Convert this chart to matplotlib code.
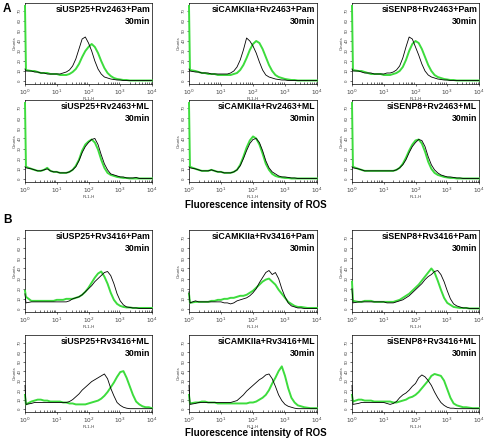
"""
ROS flow cytometry histograms (FL1-H), siRNA knockdown panels A and B
"""

import matplotlib.pyplot as plt
import numpy as np
from matplotlib.ticker import LogLocator, NullFormatter

plt.rcParams['font.family'] = ['Liberation Sans', 'DejaVu Sans']

# log10 FL1-H bin positions: the first-channel pile-up, the value just after it,
# then 0.1 decade steps up to 10^4
log_fl1 = np.concatenate([[0.0, 0.03], np.round(np.arange(0.2, 4.01, 0.1), 1)])

titles = [
    'siUSP25+Rv2463+Pam', 'siCAMKIIa+Rv2463+Pam', 'siSENP8+Rv2463+Pam',
    'siUSP25+Rv2463+ML', 'siCAMKIIa+Rv2463+ML', 'siSENP8+Rv2463+ML',
    'siUSP25+Rv3416+Pam', 'siCAMKIIa+Rv3416+Pam', 'siSENP8+Rv3416+Pam',
    'siUSP25+Rv3416+ML', 'siCAMKIIa+Rv3416+ML', 'siSENP8+Rv3416+ML',
]
time_label = '30min'

# counts, black = control, green = treated
black_counts = [
    [12, 10, 10, 9, 9, 8, 8, 7, 7, 7, 7, 7, 8, 9, 11, 15, 22, 32, 42, 44,
     38, 30, 20, 12, 7, 4, 3, 2, 1.5, 1, 1, .5, .5, .5, .5, .5, .5, .5, .5, .5, .5],
    [12, 10, 9, 9, 8, 8, 8, 7, 7, 7, 7, 7, 7, 8, 10, 14, 21, 31, 43, 40,
     35, 28, 19, 11, 6, 4, 3, 2, 1.5, 1, 1, .5, .5, .5, .5, .5, .5, .5, .5, .5, .5],
    [12, 10, 10, 9, 8, 8, 8, 7, 7, 7, 7, 8, 8, 9, 11, 15, 23, 34, 44, 42,
     34, 26, 17, 10, 6, 4, 3, 2, 1.5, 1, 1, .5, .5, .5, .5, .5, .5, .5, .5, .5, .5],
    [12, 11, 10, 9, 8, 8, 9, 10, 8, 7, 7, 6, 6, 6, 7, 9, 12, 18, 26, 32,
     36, 39, 40, 34, 24, 15, 9, 5, 4, 3, 2, 2, 1, 1, 1, 1.5, .5, .5, .5, .5, .5],
    [12, 11, 10, 9, 8, 8, 8, 9, 8, 7, 7, 6, 6, 6, 7, 9, 13, 20, 28, 35,
     39, 40, 36, 28, 18, 11, 7, 5, 3, 2, 2, 1.5, 1, 1, .5, .5, .5, .5, .5, .5, .5],
    [12, 11, 10, 9, 8, 8, 8, 8, 8, 8, 8, 8, 8, 8, 9, 11, 14, 19, 26, 32,
     36, 39, 38, 32, 22, 14, 9, 6, 4, 3, 2, 2, 1.5, 1, 1, .5, .5, .5, .5, .5, .5],
    [15, 6, 7, 7, 7, 7, 7, 7, 7, 7, 7, 7, 7, 7, 8, 10, 11, 12, 14, 17,
     20, 23, 27, 30, 33, 36, 37, 33, 25, 15, 8, 4, 2, 1.5, 1, 1, .5, .5, .5, .5, .5],
    [17, 6, 8, 7, 7, 7, 7, 7, 7, 7, 7, 6, 6, 5, 6, 8, 9, 10, 11, 13,
     16, 20, 26, 31, 36, 38, 34, 36, 30, 20, 12, 6, 3, 2, 1, 1, .5, .5, .5, .5, .5],
    [20, 6, 7, 7, 7, 7, 7, 7, 7, 7, 7, 6, 6, 6, 7, 8, 9, 11, 13, 16,
     19, 22, 25, 29, 32, 34, 37, 38, 34, 27, 18, 10, 5, 3, 2, 1, 1, .5, .5, .5, .5],
    [25, 5, 6, 7, 7, 7, 7, 7, 7, 7, 7, 7, 7, 7, 8, 10, 13, 16, 20, 23,
     26, 29, 31, 33, 35, 37, 32, 22, 14, 7, 4, 2, 1, .5, .5, .5, .5, .5, .5, .5, .5],
    [25, 5, 6, 7, 7, 7, 7, 7, 7, 7, 7, 7, 7, 7, 8, 9, 12, 15, 19, 22,
     25, 28, 31, 33, 36, 37, 32, 24, 15, 9, 5, 3, 2, 1, .5, .5, .5, .5, .5, .5, .5],
    [25, 5, 6, 7, 7, 7, 7, 7, 7, 7, 7, 6, 5, 6, 8, 12, 15, 17, 20, 24,
     27, 33, 36, 34, 30, 25, 18, 12, 7, 4, 2, 1, 1, .5, .5, .5, .5, .5, .5, .5, .5],
]

green_counts = [
    [75, 11, 10, 10, 9, 8, 8, 8, 7, 7, 7, 6, 6, 6, 7, 9, 12, 17, 24, 30,
     34, 37, 34, 28, 20, 13, 8, 5, 3, 2, 1.5, 1, 1, .5, .5, .5, .5, .5, .5, .5, .5],
    [75, 11, 10, 9, 8, 8, 7, 7, 7, 6, 6, 6, 6, 6, 7, 8, 11, 16, 23, 31,
     37, 40, 38, 32, 24, 16, 10, 6, 4, 3, 2, 1.5, 1, 1, .5, .5, .5, .5, .5, .5, .5],
    [75, 11, 10, 10, 9, 8, 7, 7, 7, 7, 6, 6, 6, 7, 8, 10, 14, 21, 30, 37,
     40, 38, 32, 24, 16, 10, 6, 4, 3, 2, 1.5, 1, 1, .5, .5, .5, .5, .5, .5, .5, .5],
    [75, 12, 10, 9, 8, 8, 9, 11, 8, 7, 7, 6, 6, 6, 7, 9, 13, 19, 28, 34,
     37, 39, 36, 29, 19, 11, 6, 4, 3, 2, 1.5, 1, 1, .5, .5, .5, .5, .5, .5, .5, .5],
    [75, 12, 10, 9, 8, 8, 8, 9, 8, 7, 7, 6, 6, 6, 7, 9, 14, 22, 31, 38,
     42, 40, 34, 25, 15, 9, 5, 3, 2, 1.5, 1, 1, .5, .5, .5, .5, .5, .5, .5, .5, .5],
    [75, 12, 10, 9, 8, 8, 8, 8, 8, 8, 8, 8, 8, 8, 9, 11, 15, 21, 28, 34,
     38, 39, 35, 27, 17, 10, 6, 4, 3, 2, 1.5, 1, 1, .5, .5, .5, .5, .5, .5, .5, .5],
    [18, 12, 8, 8, 8, 8, 8, 8, 8, 8, 9, 9, 9, 10, 10, 10, 11, 12, 14, 17,
     21, 26, 31, 35, 37, 32, 25, 16, 9, 5, 3, 2, 1.5, 1.5, 1, 1, 1, 1, 1, 1, 1],
    [15, 6, 7, 7, 7, 7, 7, 8, 8, 9, 9, 10, 10, 11, 11, 12, 13, 13, 14, 16,
     18, 21, 24, 27, 29, 30, 27, 24, 19, 15, 11, 7, 5, 3, 2, 2, 1.5, 1, 1, 1, 1],
    [27, 8, 7, 7, 8, 8, 8, 7, 7, 7, 7, 7, 7, 7, 8, 9, 11, 13, 15, 18,
     21, 24, 28, 32, 36, 40, 36, 28, 19, 11, 6, 4, 2, 1.5, 1, 1, 1, .5, .5, .5, .5],
    [15, 5, 8, 9, 10, 10, 9, 9, 8, 8, 8, 8, 7, 7, 6, 6, 5, 5, 5, 5,
     6, 7, 8, 9, 11, 14, 18, 23, 28, 34, 39, 40, 33, 24, 15, 8, 5, 3, 2, 2, 1],
    [15, 6, 7, 7, 8, 8, 7, 7, 7, 6, 6, 6, 6, 6, 6, 6, 6, 6, 6, 7,
     7, 8, 10, 12, 15, 20, 27, 33, 40, 45, 35, 22, 12, 7, 4, 3, 2, 1.5, 1, 1, 1],
    [15, 8, 10, 10, 9, 9, 9, 8, 8, 8, 8, 8, 8, 7, 7, 8, 9, 10, 12, 13,
     15, 18, 22, 26, 30, 35, 37, 36, 35, 30, 21, 12, 6, 4, 3, 2, 2, 1.5, 1, 1, 1],
]

GREEN = '#3ddc3d'
W, H = 492, 440

# panel frames in pixels: columns (left, right), rows (top, bottom)
col_px = [(25, 152), (189, 317), (352, 479)]
row_px = [(3, 84), (100, 182), (230, 312), (335, 412)]

fig = plt.figure(figsize=(W / 100, H / 100), dpi=100)

fl1 = 10 ** log_fl1
for i, title in enumerate(titles):
    r, c = divmod(i, 3)
    (x0, x1), (y0, y1) = col_px[c], row_px[r]
    ax = fig.add_axes([x0 / W, 1 - y1 / H, (x1 - x0) / W, (y1 - y0) / H])

    # unclipped so the first-channel pile-up shows over the left spine
    ax.plot(fl1, black_counts[i], color='black', linewidth=0.6, zorder=4,
            clip_on=False)
    ax.plot(fl1, green_counts[i], color=GREEN, linewidth=1.4, zorder=3,
            clip_on=False)

    ax.set_xscale('log')
    ax.set_xlim(1, 1e4)
    ax.set_ylim(-3, 78)
    ax.set_yticks(range(0, 71, 10))
    ax.set_yticklabels([str(v) for v in range(0, 71, 10)], rotation=90,
                       va='center', fontsize=3.2, color='#444444')
    ax.set_xticks([1, 10, 100, 1000, 10000])
    ax.set_xticklabels([r'$10^{%d}$' % k for k in range(5)], fontsize=4.2,
                       color='#444444')
    ax.xaxis.set_minor_locator(LogLocator(base=10, subs=np.arange(2, 10), numticks=10))
    ax.xaxis.set_minor_formatter(NullFormatter())
    ax.tick_params(axis='both', which='major', length=1.5, width=0.4, pad=1)
    ax.tick_params(axis='x', which='minor', length=1.2, width=0.4, direction='in')
    ax.set_xlabel('FL1-H', fontsize=3.2, labelpad=0.5, color='#444444')
    ax.set_ylabel('Counts', fontsize=3.2, labelpad=0.5, color='#444444')
    for spine in ax.spines.values():
        spine.set_linewidth(0.5)

    ax.text(0.985, 0.97, f'{title}\n{time_label}', transform=ax.transAxes,
            ha='right', va='top', multialignment='right', fontsize=6.3,
            fontweight='bold', linespacing=1.35)

fig.text(3 / W, 1 - 3 / H, 'A', fontsize=8.5, fontweight='bold', va='top')
fig.text(3 / W, 1 - 214 / H, 'B', fontsize=8.5, fontweight='bold', va='top')
fig.text(256 / W, 1 - 205 / H, 'Fluorescence intensity of ROS',
         ha='center', va='center', fontsize=7, fontweight='bold')
fig.text(256 / W, 1 - 433 / H, 'Fluorescence intensity of ROS',
         ha='center', va='center', fontsize=7, fontweight='bold')

fig.savefig('out.png', dpi=100, facecolor='white')
